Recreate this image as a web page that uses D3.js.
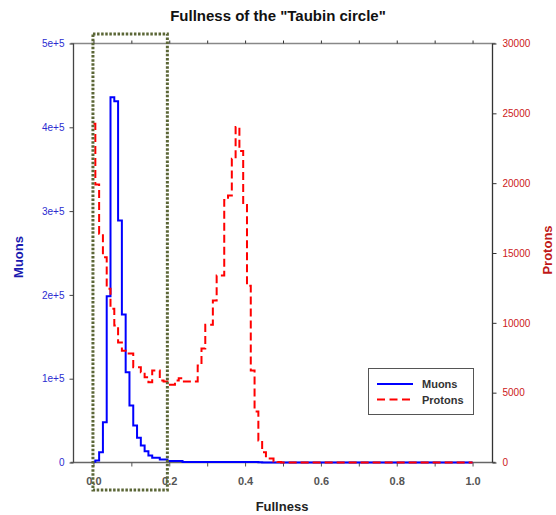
<!DOCTYPE html>
<html>
<head>
<meta charset="utf-8">
<script src="https://cdn.jsdelivr.net/npm/d3@7"></script>
<style>
  html, body { margin: 0; padding: 0; background: #fff; }
  svg { display: block; font-family: "Liberation Sans", Arial, sans-serif; }
</style>
</head>
<body>
<svg id="chart" width="556" height="515"></svg>
<script>
// ---- data ----
const fullness = [0.00,0.01,0.02,0.03,0.04,0.05,0.06,0.07,0.08,0.09,
  0.10,0.11,0.12,0.13,0.14,0.15,0.16,0.17,0.18,0.19,
  0.20,0.21,0.22,0.23,0.24,0.25,0.26,0.27,0.28,0.29,
  0.30,0.31,0.32,0.33,0.34,0.35,0.36,0.37,0.38,0.39,
  0.40,0.41,0.42,0.43,0.44,0.45,0.46,0.47,0.48,0.49,
  0.50,1.00];
const muons = [1000,2400,12300,48100,198400,435800,431000,288700,176600,107700,
  68000,44200,29500,20300,13500,8400,5600,5600,3600,3600,
  1800,1800,1800,1800,600,600,600,600,600,600,
  600,600,600,600,600,600,600,600,600,600,
  600,600,600,600,200,100,0,0,0,0,
  0,0];
const protons = [24250,19900,16380,14700,12440,11000,9810,8600,8000,7800,
  7800,6820,6820,6470,6110,5750,6590,6590,5870,5800,
  5560,5560,5870,6040,5800,5800,5800,5800,6950,8160,
  9860,9860,11600,13390,13390,18800,19120,21750,24030,22300,
  18430,12650,6590,3650,1580,740,290,290,70,40,
  0,0];
const xTicks = [0.0,0.2,0.4,0.6,0.8,1.0];
const xMinorTicks = [0.0,0.1,0.2,0.3,0.4,0.5,0.6,0.7,0.8,0.9,1.0];
const leftTicks = [0,100000,200000,300000,400000,500000];
const leftTickLabels = ["0","1e+5","2e+5","3e+5","4e+5","5e+5"];
const rightTicks = [0,5000,10000,15000,20000,25000,30000];
const seriesNames = ["Muons","Protons"];
const highlightRange = [0.0, 0.195];

// ---- layout ----
const svg = d3.select("#chart");
const L = 73.5, R = 492.5, T = 43.5, B = 462.5;
const x = d3.scaleLinear().domain([-0.0526, 1.0526]).range([L, R]);
const yL = d3.scaleLinear().domain([0, 500000]).range([B, T]);
const yR = d3.scaleLinear().domain([0, 30000]).range([B, T]);

// title
svg.append("text").attr("x", 278).attr("y", 21).attr("text-anchor", "middle")
  .attr("font-size", 15).attr("font-weight", "bold").attr("fill", "#111")
  .text('Fullness of the "Taubin circle"');

// frame lines
svg.append("line").attr("x1", L - 3).attr("x2", R + 3).attr("y1", T).attr("y2", T)
  .attr("stroke", "#888").attr("stroke-width", 1.3);
svg.append("line").attr("x1", L - 3).attr("x2", R + 3).attr("y1", B).attr("y2", B)
  .attr("stroke", "#666").attr("stroke-width", 1.3);

// bottom axis
const bAxis = d3.axisBottom(x).tickValues(xMinorTicks).tickSize(4).tickFormat("");
svg.append("g").attr("transform", `translate(0,${B})`).call(bAxis)
  .call(g => g.select(".domain").remove())
  .call(g => g.selectAll("line").attr("stroke", "#555"));
const bLabels = d3.axisBottom(x).tickValues(xTicks).tickSize(0).tickPadding(15).tickFormat(d3.format(".1f"));
svg.append("g").attr("transform", `translate(0,${B})`).call(bLabels)
  .call(g => g.select(".domain").remove())
  .call(g => g.selectAll("text").attr("font-size", 11).attr("font-weight", "bold")
    .attr("fill", "#555").attr("font-family", "Liberation Sans, Arial, sans-serif"));

// top axis ticks
const tAxis = d3.axisTop(x).tickValues(xMinorTicks).tickSize(3).tickFormat("");
svg.append("g").attr("transform", `translate(0,${T})`).call(tAxis)
  .call(g => g.select(".domain").remove())
  .call(g => g.selectAll("line").attr("stroke", "#333"));

// left axis
const lAxis = d3.axisLeft(yL).tickValues(leftTicks).tickSize(4).tickPadding(5)
  .tickFormat((d, i) => leftTickLabels[i]);
svg.append("g").attr("transform", `translate(${L},0)`).call(lAxis)
  .call(g => g.select(".domain").attr("stroke", "#444").attr("stroke-width", 1.3).attr("d", `M-0,${B}V${T}`))
  .call(g => g.selectAll("line").attr("stroke", "#444"))
  .call(g => g.selectAll("text").attr("font-size", 10).attr("fill", "#2b2bd0")
    .attr("font-family", "Liberation Sans, Arial, sans-serif"));

// right axis
const rAxis = d3.axisRight(yR).tickValues(rightTicks).tickSize(4).tickPadding(6).tickFormat(d3.format("d"));
svg.append("g").attr("transform", `translate(${R},0)`).call(rAxis)
  .call(g => g.select(".domain").attr("stroke", "#333").attr("stroke-width", 1.3).attr("d", `M0,${B}V${T}`))
  .call(g => g.selectAll("line").attr("stroke", "#333"))
  .call(g => g.selectAll("text").attr("font-size", 10).attr("fill", "#cc2020")
    .attr("font-family", "Liberation Sans, Arial, sans-serif"));

// axis titles
svg.append("text").attr("transform", "translate(23,257) rotate(-90)").attr("text-anchor", "middle")
  .attr("font-size", 13).attr("font-weight", "bold").attr("fill", "#1a1ab0").text("Muons");
svg.append("text").attr("transform", "translate(552,250) rotate(-90)").attr("text-anchor", "middle")
  .attr("font-size", 13).attr("font-weight", "bold").attr("fill", "#c01818").text("Protons");
svg.append("text").attr("x", 282).attr("y", 511).attr("text-anchor", "middle")
  .attr("font-size", 13).attr("font-weight", "bold").attr("fill", "#222").text("Fullness");

// series
const muLine = d3.line().x((d, i) => x(fullness[i])).y(d => yL(d)).curve(d3.curveStep);
const prLine = d3.line().x((d, i) => x(fullness[i])).y(d => yR(d)).curve(d3.curveStep);
svg.append("path").datum(muons).attr("d", muLine).attr("fill", "none")
  .attr("stroke", "#0000ff").attr("stroke-width", 2);
svg.append("path").datum(protons).attr("d", prLine).attr("fill", "none")
  .attr("stroke", "#ff0000").attr("stroke-width", 2).attr("stroke-dasharray", "8,4");

// highlight dotted box
svg.append("rect").attr("x", x(highlightRange[0]) - 0.5).attr("y", 34)
  .attr("width", x(highlightRange[1]) - x(highlightRange[0]) + 0.5).attr("height", 456)
  .attr("fill", "none").attr("stroke", "#5b6636").attr("stroke-width", 3)
  .attr("stroke-dasharray", "2.5,1.6");

// legend
const lg = svg.append("g");
lg.append("rect").attr("x", 368.5).attr("y", 368.5).attr("width", 105).attr("height", 46)
  .attr("fill", "#fff").attr("stroke", "#555").attr("stroke-width", 1);
const lgColors = ["#0000ff", "#ff0000"];
const lgDash = [null, "8,4.5"];
seriesNames.forEach((n, i) => {
  const yy = 384 + i * 15.5;
  lg.append("line").attr("x1", 377).attr("x2", 413).attr("y1", yy).attr("y2", yy)
    .attr("stroke", lgColors[i]).attr("stroke-width", 2).attr("stroke-dasharray", lgDash[i]);
  lg.append("text").attr("x", 422).attr("y", yy + 4).attr("font-size", 11).attr("font-weight", "bold")
    .attr("fill", "#333").text(n);
});
</script>
</body>
</html>
